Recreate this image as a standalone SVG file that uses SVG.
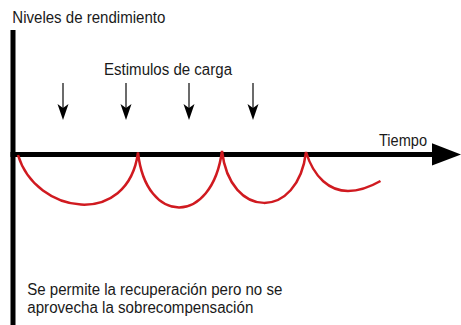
<svg xmlns="http://www.w3.org/2000/svg" width="461" height="325" viewBox="0 0 461 325">
  <style>
    .lbl { font-family: "Liberation Sans", Arial, sans-serif; font-size: 16px; fill: #1a1a1a; }
    .shaft { stroke: #3a3a3a; stroke-width: 1.5; fill: none; }
    .head { fill: #000; }
    .curve { fill: none; stroke: #d01a20; stroke-width: 2.5; stroke-linejoin: miter; }
  </style>
  <defs>
    <path id="dhead" d="M-5.5,0 L0,4 L5.5,0 L0,16 Z"/>
  </defs>
  <rect width="461" height="325" fill="#fff"/>

  <g id="axis-y">
    <rect x="10.5" y="30" width="5" height="295" fill="#000"/>
    <text class="lbl" x="12.3" y="23.3" textLength="153" lengthAdjust="spacingAndGlyphs">Niveles de rendimiento</text>
  </g>

  <g id="axis-x">
    <rect x="10.5" y="152" width="423" height="5" fill="#000"/>
    <polygon points="432,143.3 461,154.5 432,165.5" fill="#000"/>
    <text class="lbl" x="379" y="146" textLength="48" lengthAdjust="spacingAndGlyphs">Tiempo</text>
  </g>

  <g id="stimuli-label">
    <text class="lbl" x="104" y="74.5" textLength="128" lengthAdjust="spacingAndGlyphs">Estimulos de carga</text>
  </g>

  <g id="connectors">
    <g id="stim1"><line class="shaft" x1="63" y1="83" x2="63" y2="110"/><use href="#dhead" class="head" x="63" y="104"/></g>
    <g id="stim2"><line class="shaft" x1="126" y1="83" x2="126" y2="110"/><use href="#dhead" class="head" x="126" y="104"/></g>
    <g id="stim3"><line class="shaft" x1="189" y1="83" x2="189" y2="110"/><use href="#dhead" class="head" x="189" y="104"/></g>
    <g id="stim4"><line class="shaft" x1="253" y1="83" x2="253" y2="110"/><use href="#dhead" class="head" x="253" y="104"/></g>
  </g>

  <g id="performance-curve">
    <path class="curve" d="M18,155 C36,215 128,228 138,152.5 C146,226 212,226 222,151 C230,220 298,220 306,152 C314,178 330,191 348,191 C360,191 370,187 380.5,181"/>
  </g>

  <g id="note">
    <text class="lbl" x="27.3" y="294.5" textLength="255" lengthAdjust="spacingAndGlyphs">Se permite la recuperación pero no se</text>
    <text class="lbl" x="27.3" y="312.5" textLength="226" lengthAdjust="spacingAndGlyphs">aprovecha la sobrecompensación</text>
  </g>
</svg>
